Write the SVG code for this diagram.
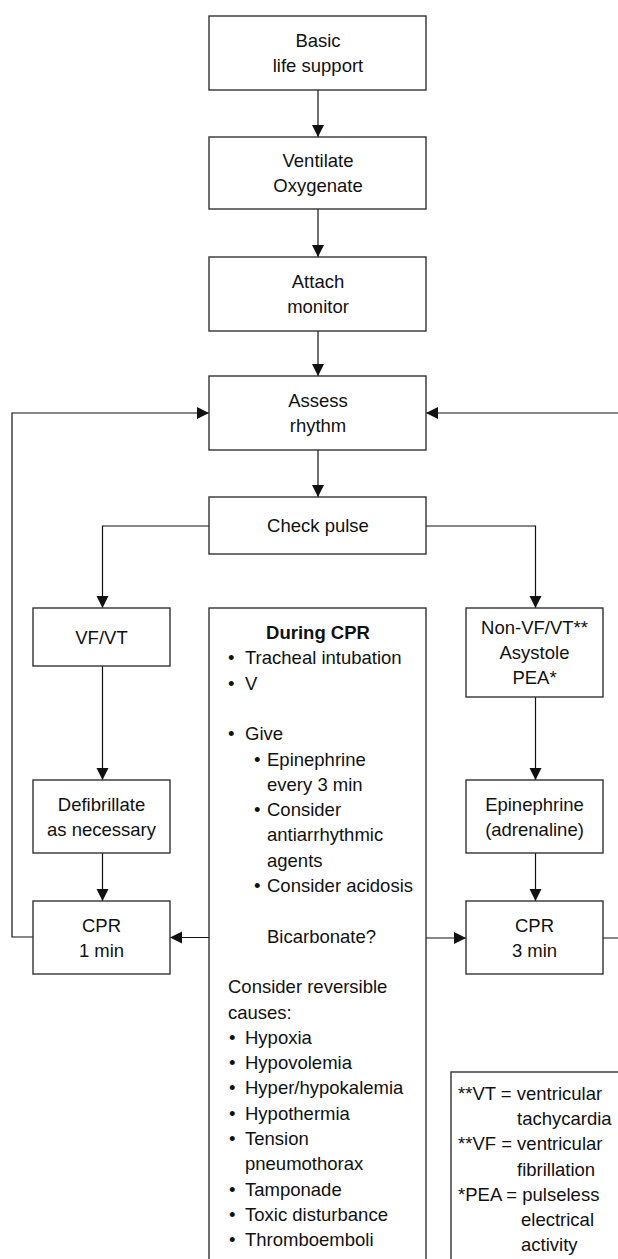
<svg xmlns="http://www.w3.org/2000/svg" width="618" height="1259" viewBox="0 0 618 1259">
  <style>
    .box { fill: #ffffff; stroke: #333333; stroke-width: 1.4; }
    .link { fill: none; stroke: #111111; stroke-width: 1.2; }
    text { font-family: "Liberation Sans", Arial, sans-serif; font-size: 18.5px; fill: #111111; }
    .c { text-anchor: middle; }
    .b { font-weight: bold; }
  </style>
  <defs>
    <marker id="arrow" markerUnits="userSpaceOnUse" markerWidth="13" markerHeight="13" refX="12" refY="6" orient="auto">
      <path d="M0,0 L12,6 L0,12 Z" fill="#111111"/>
    </marker>
  </defs>

  <rect width="618" height="1259" fill="#ffffff"/>

  <!-- connectors -->
  <g id="connectors">
    <path class="link" d="M318,90 V137" marker-end="url(#arrow)"/>
    <path class="link" d="M318,209 V257" marker-end="url(#arrow)"/>
    <path class="link" d="M318,331 V376" marker-end="url(#arrow)"/>
    <path class="link" d="M318,450 V497" marker-end="url(#arrow)"/>
    <path class="link" d="M209,526 H102.5 V608" marker-end="url(#arrow)"/>
    <path class="link" d="M426,526 H535.5 V608" marker-end="url(#arrow)"/>
    <path class="link" d="M102.5,666 V780" marker-end="url(#arrow)"/>
    <path class="link" d="M102.5,853 V901" marker-end="url(#arrow)"/>
    <path class="link" d="M535.5,697 V780" marker-end="url(#arrow)"/>
    <path class="link" d="M535.5,853 V901" marker-end="url(#arrow)"/>
    <path class="link" d="M33,937 H12 V413 H209" marker-end="url(#arrow)"/>
    <path class="link" d="M603,938 H624 V413 H426" marker-end="url(#arrow)"/>
    <path class="link" d="M209,937.5 H170" marker-end="url(#arrow)"/>
    <path class="link" d="M426,938 H466" marker-end="url(#arrow)"/>
  </g>

  <g id="basic-life-support">
    <rect class="box" x="209" y="16" width="217" height="74"/>
    <text class="c" x="318" y="47">Basic</text>
    <text class="c" x="318" y="72">life support</text>
  </g>

  <g id="ventilate">
    <rect class="box" x="209" y="137" width="217" height="72"/>
    <text class="c" x="318" y="167">Ventilate</text>
    <text class="c" x="318" y="192">Oxygenate</text>
  </g>

  <g id="attach-monitor">
    <rect class="box" x="209" y="257" width="217" height="74"/>
    <text class="c" x="318" y="288">Attach</text>
    <text class="c" x="318" y="313">monitor</text>
  </g>

  <g id="assess-rhythm">
    <rect class="box" x="209" y="376" width="217" height="74"/>
    <text class="c" x="318" y="407">Assess</text>
    <text class="c" x="318" y="432">rhythm</text>
  </g>

  <g id="check-pulse">
    <rect class="box" x="209" y="497" width="217" height="57"/>
    <text class="c" x="318" y="532">Check pulse</text>
  </g>

  <g id="vf-vt">
    <rect class="box" x="33" y="608" width="137" height="58"/>
    <text class="c" x="101.5" y="644">VF/VT</text>
  </g>

  <g id="defibrillate">
    <rect class="box" x="33" y="780" width="137" height="73"/>
    <text class="c" x="101.5" y="810.5">Defibrillate</text>
    <text class="c" x="101.5" y="835.5">as necessary</text>
  </g>

  <g id="cpr-1-min">
    <rect class="box" x="33" y="901" width="137" height="73"/>
    <text class="c" x="101.5" y="932">CPR</text>
    <text class="c" x="101.5" y="957">1 min</text>
  </g>

  <g id="non-vf-vt">
    <rect class="box" x="466" y="608" width="137" height="89"/>
    <text class="c" x="534.5" y="634">Non-VF/VT**</text>
    <text class="c" x="534.5" y="659">Asystole</text>
    <text class="c" x="534.5" y="684">PEA*</text>
  </g>

  <g id="epinephrine">
    <rect class="box" x="466" y="780" width="137" height="73"/>
    <text class="c" x="534.5" y="810.5">Epinephrine</text>
    <text class="c" x="534.5" y="835.5">(adrenaline)</text>
  </g>

  <g id="cpr-3-min">
    <rect class="box" x="466" y="901" width="137" height="73"/>
    <text class="c" x="534.5" y="932">CPR</text>
    <text class="c" x="534.5" y="957">3 min</text>
  </g>

  <g id="during-cpr">
    <rect class="box" x="209" y="608" width="217" height="660"/>
    <text class="c b" x="318" y="639">During CPR</text>
    <text x="228" y="664.3">•</text><text x="245" y="664.3">Tracheal intubation</text>
    <text x="228" y="689.6">•</text><text x="245" y="689.6">V</text>
    <text x="228" y="740.2">•</text><text x="245" y="740.2">Give</text>
    <text x="254" y="765.5">•</text><text x="267" y="765.5">Epinephrine</text>
    <text x="267" y="790.8">every 3 min</text>
    <text x="254" y="816.1">•</text><text x="267" y="816.1">Consider</text>
    <text x="267" y="841.4">antiarrhythmic</text>
    <text x="267" y="866.7">agents</text>
    <text x="254" y="892">•</text><text x="267" y="892">Consider acidosis</text>
    <text x="267" y="942.6">Bicarbonate?</text>
    <text x="228" y="993.2">Consider reversible</text>
    <text x="228" y="1018.5">causes:</text>
    <text x="229" y="1043.8">•</text><text x="245" y="1043.8">Hypoxia</text>
    <text x="229" y="1069.1">•</text><text x="245" y="1069.1">Hypovolemia</text>
    <text x="229" y="1094.4">•</text><text x="245" y="1094.4">Hyper/hypokalemia</text>
    <text x="229" y="1119.7">•</text><text x="245" y="1119.7">Hypothermia</text>
    <text x="229" y="1145">•</text><text x="245" y="1145">Tension</text>
    <text x="245" y="1170.3">pneumothorax</text>
    <text x="229" y="1195.6">•</text><text x="245" y="1195.6">Tamponade</text>
    <text x="229" y="1220.9">•</text><text x="245" y="1220.9">Toxic disturbance</text>
    <text x="229" y="1246.2">•</text><text x="245" y="1246.2">Thromboemboli</text>
  </g>

  <g id="legend">
    <rect class="box" x="451" y="1072" width="180" height="200"/>
    <text x="458" y="1100">**VT = ventricular</text>
    <text x="517" y="1125">tachycardia</text>
    <text x="458" y="1150">**VF = ventricular</text>
    <text x="517" y="1176">fibrillation</text>
    <text x="458" y="1201">*PEA = pulseless</text>
    <text x="521" y="1226">electrical</text>
    <text x="521" y="1251">activity</text>
  </g>
</svg>
